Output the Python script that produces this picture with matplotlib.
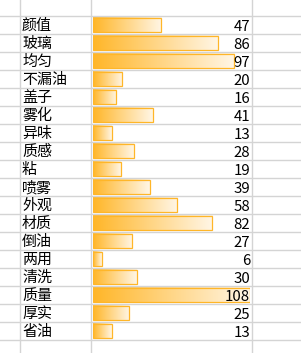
import numpy as np
import matplotlib.pyplot as plt
from matplotlib.colors import LinearSegmentedColormap

plt.rcParams['font.family'] = ['Noto Sans CJK SC', 'DejaVu Sans']

labels = ["颜值", "玻璃", "均匀", "不漏油", "盖子", "雾化", "异味", "质感", "粘",
          "喷雾", "外观", "材质", "倒油", "两用", "清洗", "质量", "厚实", "省油"]
counts = [47, 86, 97, 20, 16, 41, 13, 28, 19, 39, 58, 82, 27, 6, 30, 108, 25, 13]

W, H = 301, 353
row_top = 16      # pixel y of first row line
row_h = 18        # row height in pixels
col_lines = [20, 91, 252]
bar_x0, bar_x1 = 93, 250

fig = plt.figure(figsize=(W / 100, H / 100), dpi=100)
fig.patch.set_facecolor("white")

# y in row units, x in pixels
ylim = ((H - row_top) / row_h, -row_top / row_h)
ax = fig.add_axes([0, 0, 1, 1])
ax.set_xlim(0, W)
ax.set_ylim(*ylim)
ax.axis("off")

grid_c = "#d4d4d4"
for k in range(int(ylim[0]) + 1):
    ax.axhline(k, color=grid_c, lw=1.0)
for x in col_lines:
    ax.axvline(x, color=grid_c, lw=1.0)

for i, (lab, v) in enumerate(zip(labels, counts)):
    ax.text(22, i + 0.55, lab, fontsize=10.8, va="center", ha="left", color="black")
    ax.text(250, i + 0.6, str(v), fontsize=10.8, va="center", ha="right", color="black")

# bar column
axb = fig.add_axes([bar_x0 / W, 0, (bar_x1 - bar_x0) / W, 1])
axb.set_xlim(0, max(counts))
axb.set_ylim(*ylim)
axb.axis("off")
axb.patch.set_alpha(0)

cmap = LinearSegmentedColormap.from_list("xlbar", ["#ffb628", "#fff6e6"])
grad = np.linspace(0, 1, 256).reshape(1, -1)
bh = 0.78
for i, v in enumerate(counts):
    y = i + 0.5
    axb.imshow(grad, cmap=cmap, aspect="auto", interpolation="bilinear",
               extent=(0, v, y + bh / 2, y - bh / 2), zorder=1)
bars = axb.barh([i + 0.5 for i in range(len(counts))], counts, height=bh,
                facecolor="none", edgecolor="#ffb628", linewidth=0.9, zorder=2)
axb.set_xlim(0, max(counts))
axb.set_ylim(*ylim)

# numbers sit above the bars, as in the sheet
ax.set_zorder(2)
ax.patch.set_alpha(0)
for ln in ax.lines:
    ln.set_zorder(0)

fig.savefig("out.png", dpi=100, facecolor="white")
